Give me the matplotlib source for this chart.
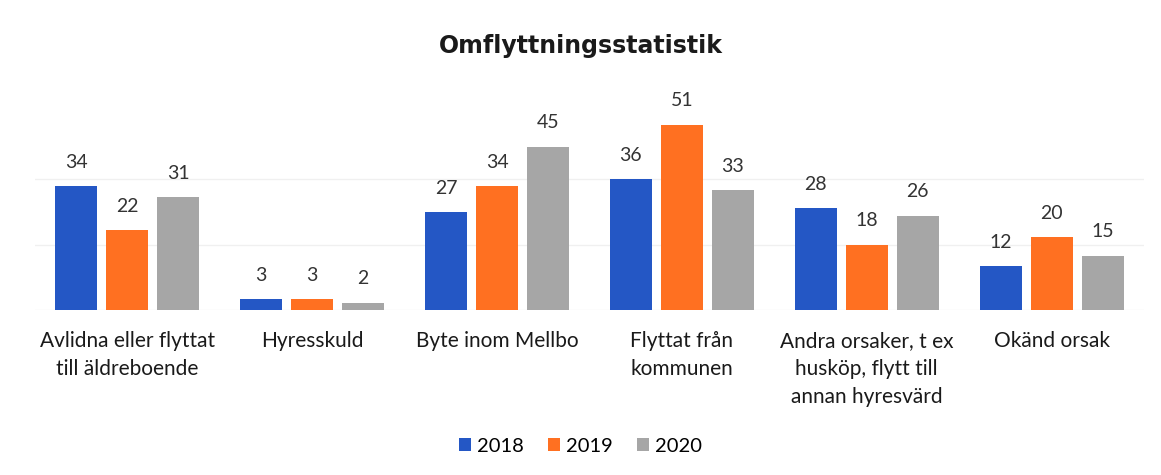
import numpy as np
import matplotlib
matplotlib.use('Agg')
import matplotlib.pyplot as plt

categories = ['Avlidna eller flyttat\ntill äldreboende', 'Hyresskuld', 'Byte inom Mellbo',
              'Flyttat från\nkommunen', 'Andra orsaker, t ex\nhusköp, flytt till\nannan hyresvärd',
              'Okänd orsak']
years = ['2018', '2019', '2020']
v2018 = [34, 3, 27, 36, 28, 12]
v2019 = [22, 3, 34, 51, 18, 20]
v2020 = [31, 2, 45, 33, 26, 15]
colors = ['#2457C5', '#FF7021', '#A6A6A6']

plt.rcParams['font.family'] = ['Lato', 'DejaVu Sans']

fig = plt.figure(figsize=(11.61, 4.75), dpi=100)
ax = fig.add_axes([35 / 1161, 165 / 475, 1109 / 1161, 218 / 475])

x = np.arange(len(categories))
step = 0.276
width = 0.227
series = [v2018, v2019, v2020]
for k, vals in enumerate(series):
    pos = x + (k - 1) * step
    bars = ax.bar(pos, vals, width, color=colors[k], label=years[k], zorder=3)
    for b, v in zip(bars, vals):
        ax.annotate(str(v), (b.get_x() + b.get_width() / 2, v), xytext=(0, 11),
                    textcoords='offset points', ha='center', va='bottom',
                    fontsize=14, color='#333333')

ax.set_xlim(-0.5, len(categories) - 0.5)
ax.set_ylim(0, 60)
ax.set_yticks([0, 18, 36])
ax.yaxis.grid(True, color='#f0f0f0', linewidth=1, zorder=0)
ax.tick_params(axis='y', left=False, labelleft=False)
ax.tick_params(axis='x', length=0, pad=15)
ax.set_xticks(x)
ax.set_xticklabels(categories, fontsize=15, color='#1a1a1a', linespacing=1.5, va='top')
for s in ax.spines.values():
    s.set_visible(False)

fig.text(0.5, 1 - 46 / 475, 'Omflyttningsstatistik', ha='center', va='center',
         fontsize=17, fontweight='bold', family='DejaVu Sans', color='#1a1a1a')

leg = fig.legend(loc='center', bbox_to_anchor=(0.5, 1 - 446 / 475), ncol=3, frameon=False,
                 fontsize=14.5, handlelength=0.6, handleheight=0.6, handletextpad=0.3,
                 columnspacing=1.2)

fig.savefig('out.png', dpi=100, facecolor='white')
